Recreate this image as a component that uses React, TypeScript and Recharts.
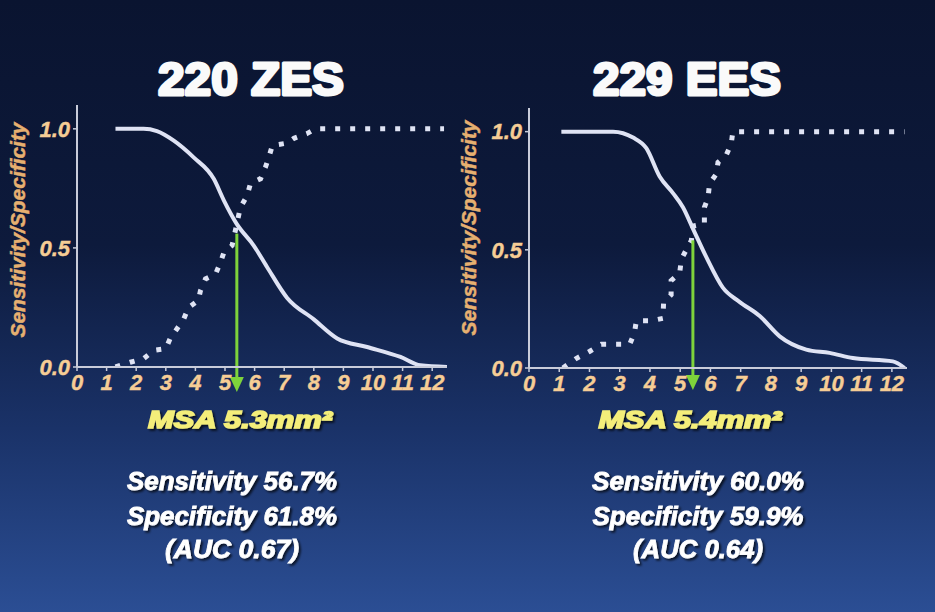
import { LineChart, Line, XAxis, YAxis, ReferenceLine } from "recharts";

// x = MSA cut-off (mm²), y = sensitivity (dotted) / specificity (solid)
const xTicks = [0, 1, 2, 3, 4, 5, 6, 7, 8, 9, 10, 11, 12];
const yTicks = [0, 0.5, 1];

const zesSpecX = [1.3, 2.25, 2.7, 3.27, 3.94, 4.62, 4.96, 5.4, 5.97, 6.42, 7.1, 8.0, 8.79, 9.8, 10.93, 11.6, 12.5];
const zesSpecY = [1.0, 1.0, 0.99, 0.95, 0.88, 0.79, 0.7, 0.6, 0.51, 0.42, 0.29, 0.2, 0.12, 0.084, 0.042, 0.007, 0];

const zesSensX = [1.3, 1.8, 2.25, 2.6, 3.0, 3.15, 3.6, 3.77, 4.1, 4.17, 4.34, 4.68, 4.85, 4.96, 5.24, 5.52, 5.75, 5.86, 6.2, 6.37, 6.48, 6.6, 7.1, 7.33, 7.77, 8.06, 12.4];
const zesSensY = [0, 0.02, 0.035, 0.07, 0.077, 0.12, 0.2, 0.25, 0.28, 0.32, 0.37, 0.39, 0.44, 0.48, 0.51, 0.67, 0.72, 0.77, 0.79, 0.84, 0.88, 0.93, 0.94, 0.96, 0.98, 1.0, 1.0];

const eesSpecX = [1.07, 2.78, 3.44, 3.88, 4.32, 4.76, 5.09, 5.42, 5.86, 6.41, 6.96, 7.63, 8.29, 9.17, 9.94, 10.71, 12.03, 12.42];
const eesSpecY = [1.0, 1.0, 0.975, 0.93, 0.81, 0.74, 0.68, 0.59, 0.47, 0.34, 0.28, 0.22, 0.134, 0.078, 0.064, 0.042, 0.028, 0];

const eesSensX = [1.12, 1.56, 2.0, 2.39, 2.89, 3.33, 3.49, 3.55, 4.04, 4.43, 4.45, 4.7, 4.7, 4.98, 5.04, 5.2, 5.37, 5.42, 5.8, 5.8, 5.92, 5.97, 6.19, 6.25, 6.52, 6.69, 6.74, 12.42];
const eesSensY = [0, 0.04, 0.07, 0.1, 0.1, 0.1, 0.15, 0.2, 0.2, 0.21, 0.275, 0.31, 0.37, 0.4, 0.46, 0.5, 0.54, 0.6, 0.61, 0.68, 0.72, 0.78, 0.82, 0.87, 0.9, 0.95, 1.0, 1.0];

// optimal cut-off arrows: [x, top y, bottom y]
const zesCutoff = [5.4, 0.56, -0.105];
const eesCutoff = [5.42, 0.54, -0.093];

const zip = (xs: number[], ys: number[]) => xs.map((x, i) => ({ x, y: ys[i] }));

const AXIS = "#c9ccda";
const TICK = "#f6cd95";
const CURVE = "#dfe3f4";
const GREEN = "#7ed33b";
const FONT = "'Liberation Sans', Arial, sans-serif";

const Arrow = (p: any) => {
  const top = Math.min(p.y1, p.y2);
  const bot = Math.max(p.y1, p.y2);
  const x = p.x1;
  return (
    <g>
      <line x1={x} y1={top} x2={x} y2={bot - 12} stroke={GREEN} strokeWidth={3} />
      <polygon points={`${x - 7},${bot - 15} ${x + 7},${bot - 15} ${x},${bot}`} fill={GREEN} />
    </g>
  );
};

function RocPanel({ spec, sens, cutoff, width, margin }: any) {
  const tick = {
    fill: TICK,
    stroke: TICK,
    strokeWidth: 0.4,
    fontSize: 22,
    fontStyle: "italic",
    fontWeight: 700,
    fontFamily: FONT,
  };
  return (
    <LineChart width={width} height={420} margin={margin}>
      <XAxis
        type="number"
        dataKey="x"
        domain={[0, 12.5]}
        ticks={xTicks}
        allowDataOverflow
        height={30}
        axisLine={{ stroke: AXIS, strokeWidth: 2 }}
        tickLine={{ stroke: AXIS, strokeWidth: 1.5 }}
        tickSize={4}
        tickMargin={3}
        tick={tick}
        interval={0}
      />
      <YAxis
        type="number"
        dataKey="y"
        domain={[0, 1.1]}
        ticks={yTicks}
        allowDataOverflow
        width={40}
        axisLine={{ stroke: AXIS, strokeWidth: 2 }}
        tickLine={{ stroke: AXIS, strokeWidth: 1.5 }}
        tickSize={4}
        tickMargin={3}
        tick={tick}
        tickFormatter={(v) => v.toFixed(1)}
      />
      <Line
        data={sens}
        dataKey="y"
        type="linear"
        stroke={CURVE}
        strokeWidth={5}
        strokeDasharray="5 10"
        dot={false}
        isAnimationActive={false}
      />
      <Line
        data={spec}
        dataKey="y"
        type="monotone"
        stroke={CURVE}
        strokeWidth={4}
        dot={false}
        isAnimationActive={false}
      />
      <ReferenceLine
        segment={[
          { x: cutoff[0], y: cutoff[1] },
          { x: cutoff[0], y: cutoff[2] },
        ]}
        ifOverflow="visible"
        shape={Arrow}
      />
    </LineChart>
  );
}

export default function App() {
  const statStyle = {
    fill: "#ffffff",
    stroke: "#ffffff",
    strokeWidth: 0.8,
    fontSize: 25,
    fontStyle: "italic",
    fontWeight: 700,
    fontFamily: FONT,
  } as const;
  const msaStyle = {
    fill: "#f4ee7a",
    stroke: "#f4ee7a",
    strokeWidth: 1.6,
    fontSize: 24,
    fontStyle: "italic",
    fontWeight: 700,
    fontFamily: FONT,
  } as const;
  const titleStyle = {
    fill: "#fafafa",
    stroke: "#fafafa",
    strokeWidth: 3,
    strokeLinejoin: "round",
    fontSize: 46,
    fontWeight: 700,
    fontFamily: FONT,
  } as const;
  const ylab = {
    fill: "#e6b070",
    stroke: "#e6b070",
    strokeWidth: 0.5,
    fontSize: 21,
    fontStyle: "italic",
    fontWeight: 700,
    fontFamily: FONT,
  } as const;
  return (
    <div
      style={{
        position: "absolute",
        left: 0,
        top: 0,
        width: 935,
        height: 612,
        overflow: "hidden",
        background: "linear-gradient(to bottom, #0a1430 0%, #0d1a3c 40%, #1a3268 70%, #2b4e94 100%)",
      }}
    >
      <div style={{ position: "absolute", left: 0, top: 0 }}>
        <RocPanel
          spec={zip(zesSpecX, zesSpecY)}
          sens={zip(zesSensX, zesSensY)}
          cutoff={zesCutoff}
          width={470}
          margin={{ top: 105, right: 23, bottom: 23, left: 37 }}
        />
      </div>
      <div style={{ position: "absolute", left: 460, top: 0 }}>
        <RocPanel
          spec={zip(eesSpecX, eesSpecY)}
          sens={zip(eesSensX, eesSensY)}
          cutoff={eesCutoff}
          width={475}
          margin={{ top: 108, right: 28, bottom: 22, left: 29 }}
        />
      </div>
      <svg width={935} height={612} style={{ position: "absolute", left: 0, top: 0, pointerEvents: "none" }}>
        <defs>
          <filter id="shadow" x="-10%" y="-30%" width="130%" height="160%">
            <feDropShadow dx="2" dy="2" stdDeviation="1" floodColor="#000" floodOpacity="0.7" />
          </filter>
        </defs>
        <text x={251} y={95} textAnchor="middle" textLength={186} lengthAdjust="spacingAndGlyphs" style={titleStyle}>
          220 ZES
        </text>
        <text x={687} y={95} textAnchor="middle" textLength={188} lengthAdjust="spacingAndGlyphs" style={titleStyle}>
          229 EES
        </text>
        <text x={25} y={230} transform="rotate(-90 25 230)" textAnchor="middle" textLength={215} lengthAdjust="spacingAndGlyphs" style={ylab}>
          Sensitivity/Specificity
        </text>
        <text x={476} y={228} transform="rotate(-90 476 228)" textAnchor="middle" textLength={215} lengthAdjust="spacingAndGlyphs" style={ylab}>
          Sensitivity/Specificity
        </text>
        <g filter="url(#shadow)">
          <text x={240} y={428} textAnchor="middle" textLength={184} lengthAdjust="spacingAndGlyphs" style={msaStyle}>
            MSA 5.3mm²
          </text>
          <text x={690} y={428} textAnchor="middle" textLength={183} lengthAdjust="spacingAndGlyphs" style={msaStyle}>
            MSA 5.4mm²
          </text>
          <text x={232} y={490} textAnchor="middle" textLength={210} lengthAdjust="spacingAndGlyphs" style={statStyle}>
            Sensitivity 56.7%
          </text>
          <text x={232} y={525} textAnchor="middle" textLength={210} lengthAdjust="spacingAndGlyphs" style={statStyle}>
            Specificity 61.8%
          </text>
          <text x={232} y={558} textAnchor="middle" textLength={134} lengthAdjust="spacingAndGlyphs" style={statStyle}>
            (AUC 0.67)
          </text>
          <text x={698} y={490} textAnchor="middle" textLength={212} lengthAdjust="spacingAndGlyphs" style={statStyle}>
            Sensitivity 60.0%
          </text>
          <text x={698} y={525} textAnchor="middle" textLength={211} lengthAdjust="spacingAndGlyphs" style={statStyle}>
            Specificity 59.9%
          </text>
          <text x={698} y={558} textAnchor="middle" textLength={130} lengthAdjust="spacingAndGlyphs" style={statStyle}>
            (AUC 0.64)
          </text>
        </g>
      </svg>
    </div>
  );
}
